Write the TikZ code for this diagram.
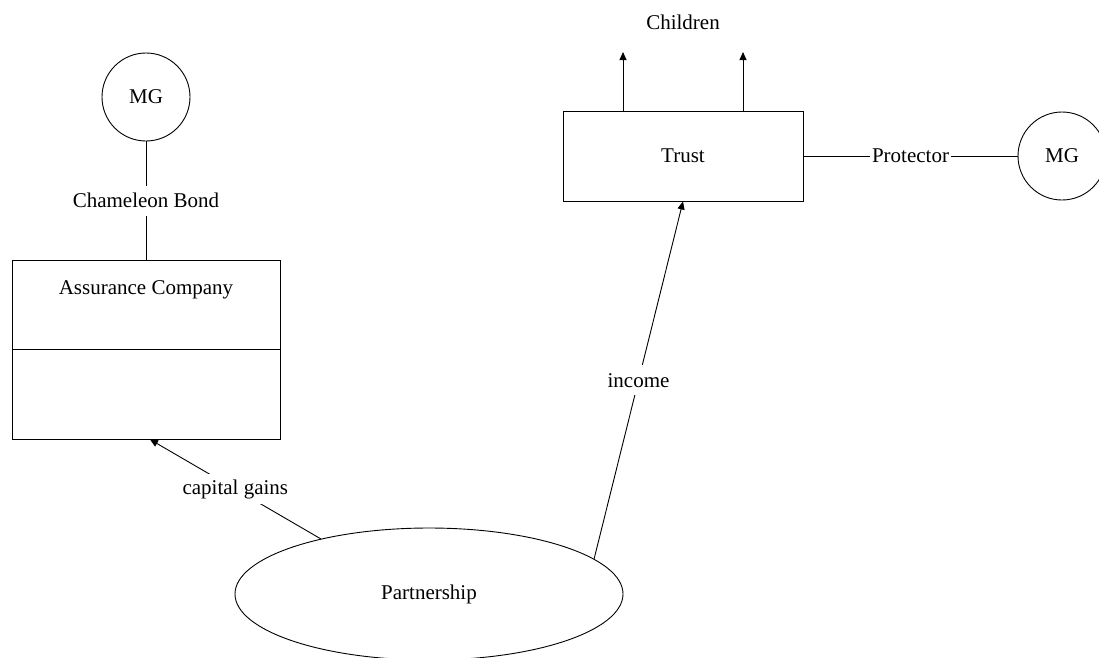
\documentclass[tikz,border=0pt]{standalone}
\usepackage{fontspec}
\setmainfont{Liberation Serif}
\usetikzlibrary{shapes.geometric,arrows.meta}
\begin{document}
\begin{tikzpicture}[x=1pt,y=-1pt,
  every node/.style={font=\fontsize{21}{25}\selectfont},
  line/.style={draw=black,line width=0.9pt},
  arrowline/.style={line,-{Triangle[length=8pt,width=7pt]}},
  entity/.style={draw,line width=0.9pt,rectangle,inner sep=0pt},
  person/.style={draw,line width=0.9pt,circle,minimum size=88pt,inner sep=0pt},
  pool/.style={draw,line width=0.9pt,ellipse,minimum width=388pt,minimum height=132pt,inner sep=0pt},
  edgelabel/.style={fill=white,inner xsep=2pt,inner ysep=0pt,minimum height=30pt},
]
\useasboundingbox (0,0) rectangle (1099,657);
\clip (0,0) rectangle (1099,657);

% parties
\node[person] (mg1) at (146,97) {MG};
\node[entity,minimum width=268pt,minimum height=179pt] (assure) at (146,349.5) {};
\node (assuretitle) at (146,290) {Assurance Company};
\draw[line] (assure.west) -- (assure.east);
\node[entity,minimum width=240pt,minimum height=90pt] (trust) at (683,156) {Trust};
\node[person] (mg2) at (1062,156) {MG};
\node[pool] (part) at (429,594) {Partnership};
\node (children) at (683,22) {Children};
\coordinate (c1) at (623,52);
\coordinate (c2) at (743,52);

% relations
\draw[line] (mg1) -- node[edgelabel] {Chameleon Bond} (assure);
\draw[line] (trust) -- node[edgelabel] {Protector} (mg2);
\draw[arrowline] (trust.north -| c1) -- (c1);
\draw[arrowline] (trust.north -| c2) -- (c2);
\draw[arrowline] (part.153) -- node[edgelabel] {capital gains} ([xshift=4pt]assure.south);
\draw[arrowline] (part.12) -- node[edgelabel] {income} (trust.south);
\end{tikzpicture}
\end{document}
